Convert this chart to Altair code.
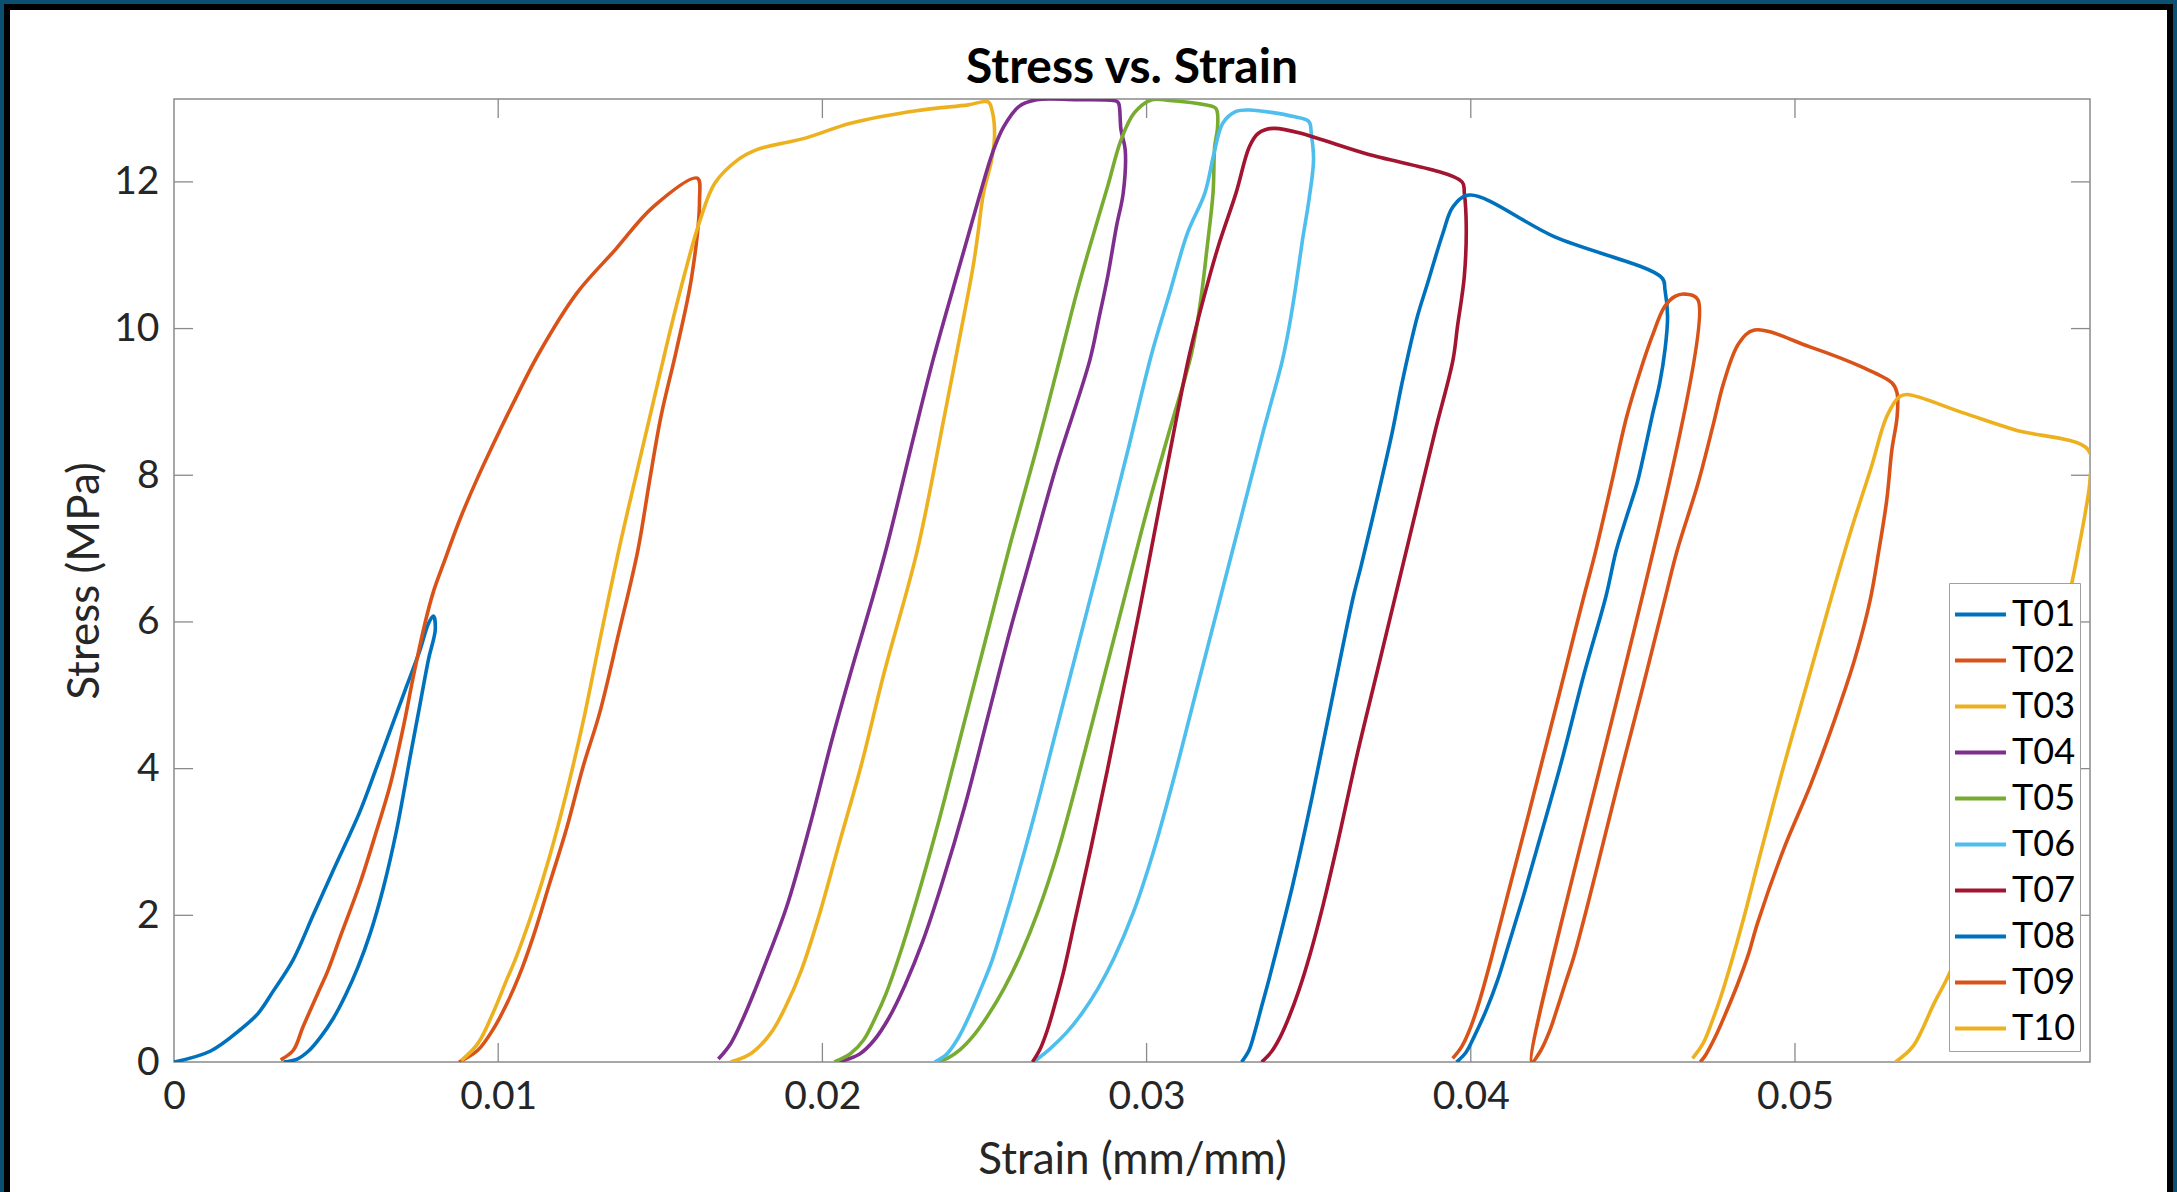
import altair as alt
import pandas as pd

# ---------------- data (strain in mm/mm, stress in MPa) ----------------
T01_strain = [0, 0.00113, 0.00207, 0.00259, 0.00308, 0.00367, 0.0043, 0.00492, 0.00574, 0.00626, 0.00677, 0.00718,
              0.00759, 0.00785, 0.0080, 0.00806, 0.00785, 0.00759, 0.00728, 0.00687, 0.00646, 0.00605, 0.00568,
              0.0053, 0.00492, 0.00452, 0.00415, 0.0038, 0.00338]
T01_stress = [0, 0.15, 0.45, 0.66, 0.98, 1.39, 2.01, 2.62, 3.42, 4.03, 4.64, 5.13,
              5.62, 5.98, 6.08, 5.9, 5.49, 4.88, 4.15, 3.17, 2.38, 1.75, 1.3,
              0.92, 0.6, 0.34, 0.15, 0.04, 0]

T02_strain = [0.00329, 0.00368, 0.00398, 0.00445, 0.00475, 0.00513, 0.00574, 0.00626, 0.00667, 0.00708, 0.00738,
              0.00774, 0.008, 0.0083, 0.00882, 0.00933, 0.01006, 0.01046, 0.01124, 0.01242, 0.0136, 0.01478, 0.01614,
              0.01621, 0.01597, 0.0155, 0.01502, 0.01466, 0.01431, 0.01372, 0.01313, 0.01262, 0.0121, 0.01159,
              0.01108, 0.01065, 0.01025, 0.00985, 0.00937, 0.00879]
T02_stress = [0.03, 0.16, 0.48, 0.95, 1.25, 1.71, 2.44, 3.17, 3.78, 4.58, 5.25,
              5.98, 6.41, 6.78, 7.4, 7.93, 8.62, 8.98, 9.65, 10.48, 11.07, 11.66, 12.05,
              11.75, 10.71, 9.71, 8.8, 7.9, 6.98, 5.85, 4.76, 4.03, 3.17, 2.44,
              1.71, 1.18, 0.78, 0.45, 0.16, 0]

T03_strain = [0.00886, 0.00937, 0.00988, 0.01026, 0.01052, 0.01108, 0.01159, 0.0121, 0.01262, 0.01313, 0.01372,
              0.0142, 0.01478, 0.01526, 0.01573, 0.0162, 0.01668, 0.01739, 0.01798, 0.0195, 0.02087, 0.0229, 0.0245,
              0.02511, 0.02525, 0.02531, 0.02522, 0.02497, 0.0248, 0.02465, 0.02424, 0.02376, 0.02293, 0.0219,
              0.0212, 0.0205, 0.0199, 0.01935, 0.01886, 0.01842, 0.01781, 0.01717]
T03_stress = [0.02, 0.25, 0.71, 1.12, 1.39, 2.08, 2.81, 3.66, 4.64, 5.74, 6.98,
              7.9, 8.99, 9.89, 10.71, 11.44, 11.98, 12.3, 12.44, 12.6, 12.8, 12.97, 13.05,
              13.09, 12.94, 12.62, 12.3, 11.85, 11.3, 10.85, 9.89, 8.8, 6.98, 5.3,
              4.05, 2.95, 2.0, 1.25, 0.75, 0.4, 0.12, 0]

T04_strain = [0.01679, 0.01717, 0.01756, 0.01794, 0.01832, 0.0189, 0.0196, 0.0203, 0.021, 0.0215, 0.022, 0.02282,
              0.02343, 0.02426, 0.02484, 0.02525, 0.02559, 0.02607, 0.02661, 0.0278, 0.02907,
              0.02914, 0.02921, 0.02934, 0.02928, 0.02907, 0.0288, 0.02852, 0.02825, 0.0272, 0.0265, 0.0258,
              0.0251, 0.0244, 0.0237, 0.0231, 0.02255, 0.02205, 0.0216, 0.02115, 0.02049]
T04_stress = [0.04, 0.25, 0.6, 1.0, 1.43, 2.12, 3.2, 4.4, 5.5, 6.25, 7.05, 8.53,
              9.6, 10.9, 11.8, 12.4, 12.75, 13.03, 13.12, 13.12, 13.1,
              13.07, 12.71, 12.44, 11.85, 11.39, 10.71, 10.12, 9.57, 8.1, 7.0, 5.9,
              4.7, 3.5, 2.45, 1.65, 1.05, 0.6, 0.3, 0.11, 0]

T05_strain = [0.02037, 0.02088, 0.02127, 0.02165, 0.02197, 0.02233, 0.0229, 0.0236, 0.0243, 0.025, 0.02583, 0.0266,
              0.02736, 0.02784, 0.02825, 0.0288, 0.02921, 0.02962, 0.03016, 0.03071, 0.0318, 0.03214,
              0.03219, 0.0321, 0.03205, 0.03187, 0.03167, 0.03139, 0.0307, 0.03, 0.0293, 0.0286, 0.0279, 0.02725,
              0.02665, 0.0261, 0.0256, 0.02513, 0.02468, 0.02425, 0.02385, 0.0235]
T05_stress = [0, 0.12, 0.3, 0.62, 0.94, 1.39, 2.2, 3.3, 4.5, 5.7, 7.12, 8.35,
              9.65, 10.48, 11.12, 11.94, 12.57, 12.94, 13.12, 13.11, 13.05, 13.0,
              12.75, 12.48, 11.85, 11.12, 10.39, 9.67, 8.6, 7.5, 6.3, 5.1, 3.9, 2.85,
              2.05, 1.45, 1.0, 0.65, 0.37, 0.17, 0.05, 0]

T06_strain = [0.02346, 0.02382, 0.02418, 0.02452, 0.02487, 0.02523, 0.0258, 0.0265, 0.0272, 0.0279, 0.0286, 0.0294,
              0.03016, 0.03071, 0.03126, 0.0318, 0.03208, 0.03235, 0.03276, 0.03317, 0.03454, 0.03501,
              0.03508, 0.03515, 0.03501, 0.03481, 0.0346, 0.0344, 0.03419, 0.0336, 0.0329, 0.0322, 0.0315, 0.0308,
              0.0302, 0.0296, 0.029, 0.0285, 0.028, 0.02753, 0.02702, 0.02651]
T06_stress = [0, 0.1, 0.32, 0.62, 0.98, 1.38, 2.2, 3.3, 4.5, 5.7, 6.9, 8.3,
              9.66, 10.48, 11.3, 11.85, 12.39, 12.8, 12.96, 12.98, 12.89, 12.82,
              12.66, 12.3, 11.76, 11.21, 10.57, 10.03, 9.57, 8.6, 7.4, 6.2, 5.0, 3.8,
              2.85, 2.05, 1.42, 1.0, 0.66, 0.4, 0.18, 0]

T07_strain = [0.02648, 0.02672, 0.02695, 0.02718, 0.02745, 0.0278, 0.0283, 0.0288, 0.0293, 0.0298, 0.0303, 0.0308,
              0.03133, 0.0318, 0.03221, 0.03276, 0.03317, 0.03344, 0.03392, 0.0368, 0.03973,
              0.0398, 0.03986, 0.0398, 0.03959, 0.03945, 0.0389, 0.0383, 0.0377, 0.0371, 0.0365, 0.0359, 0.03545,
              0.03505, 0.0347, 0.0344, 0.03412, 0.03385, 0.03355]
T07_stress = [0, 0.18, 0.45, 0.8, 1.25, 1.95, 2.95, 4.0, 5.1, 6.2, 7.35, 8.5,
              9.66, 10.48, 11.12, 11.85, 12.48, 12.66, 12.73, 12.38, 12.0,
              11.85, 11.39, 10.71, 10.03, 9.57, 8.6, 7.5, 6.4, 5.3, 4.2, 3.0, 2.15,
              1.48, 0.98, 0.62, 0.34, 0.14, 0]

T08_strain = [0.03293, 0.03316, 0.03335, 0.03355, 0.03373, 0.03393, 0.0345, 0.0351, 0.0357, 0.03638, 0.03661, 0.0371,
              0.03757, 0.03788, 0.03835, 0.03867, 0.03914, 0.03945, 0.03995, 0.04259, 0.0459,
              0.04599, 0.04607, 0.04599, 0.04583, 0.04559, 0.04537, 0.04513, 0.04481, 0.04449, 0.04417, 0.0435,
              0.0428, 0.04203, 0.04158, 0.04118, 0.04083, 0.04048, 0.04013, 0.03985, 0.03956]
T08_stress = [0, 0.16, 0.43, 0.76, 1.05, 1.39, 2.4, 3.6, 4.9, 6.35, 6.75, 7.66,
              8.57, 9.26, 10.16, 10.62, 11.3, 11.66, 11.82, 11.25, 10.69,
              10.53, 10.16, 9.71, 9.26, 8.8, 8.35, 7.89, 7.44, 6.98, 6.35, 5.3,
              4.1, 2.89, 2.2, 1.62, 1.12, 0.71, 0.37, 0.13, 0]

T09_strain = [0.03944, 0.03972, 0.04, 0.04028, 0.04062, 0.04115, 0.04168, 0.0422, 0.04272, 0.04323, 0.04346, 0.04386,
              0.04434, 0.04481, 0.04527, 0.04559, 0.04598, 0.0463, 0.04661, 0.04701,
              0.04188, 0.04215, 0.04243, 0.04268, 0.04292, 0.04317, 0.04351, 0.0439, 0.0446, 0.0453, 0.04598,
              0.04637, 0.04701, 0.04749, 0.0478, 0.04827, 0.04875, 0.05046, 0.05204, 0.05299,
              0.05315, 0.05315, 0.05299, 0.05283, 0.05259, 0.05232, 0.05185, 0.05125, 0.0505, 0.04964, 0.04885,
              0.04855, 0.04822, 0.04785, 0.04755, 0.04725, 0.04708]
T09_stress = [0.05, 0.21, 0.48, 0.85, 1.39, 2.3, 3.2, 4.1, 5.0, 5.9, 6.3, 6.98,
              7.89, 8.8, 9.48, 9.89, 10.3, 10.44, 10.47, 10.39,
              0, 0.15, 0.42, 0.75, 1.08, 1.42, 1.98, 2.66, 3.9, 5.1, 6.3,
              6.98, 7.89, 8.71, 9.26, 9.8, 9.98, 9.75, 9.48, 9.26,
              9.12, 8.8, 8.35, 7.66, 6.98, 6.3, 5.5, 4.7, 3.8, 2.89, 1.9,
              1.45, 1.05, 0.65, 0.35, 0.1, 0]

T10_strain = [0.04684, 0.04716, 0.04744, 0.04772, 0.04803, 0.04843, 0.04888, 0.0496, 0.0504, 0.0511, 0.05173,
              0.05236, 0.05283, 0.05322, 0.05346, 0.05519, 0.05677, 0.05904, 0.0591, 0.05897, 0.05875, 0.0585,
              0.0577, 0.0565, 0.05481, 0.05429, 0.05365, 0.0531]
T10_stress = [0.05, 0.25, 0.55, 0.9, 1.35, 1.98, 2.75, 3.95, 5.2, 6.3, 7.25,
              8.12, 8.8, 9.07, 9.1, 8.85, 8.62, 8.35, 7.94, 7.53, 7.0, 6.45,
              5.0, 3.3, 1.25, 0.8, 0.22, 0]

tests = ["T01", "T02", "T03", "T04", "T05", "T06", "T07", "T08", "T09", "T10"]
strains = [T01_strain, T02_strain, T03_strain, T04_strain, T05_strain,
           T06_strain, T07_strain, T08_strain, T09_strain, T10_strain]
stresses = [T01_stress, T02_stress, T03_stress, T04_stress, T05_stress,
            T06_stress, T07_stress, T08_stress, T09_stress, T10_stress]
colors = ["#0072BD", "#D95319", "#EDB120", "#7E2F8E", "#77AC30",
          "#4DBEEE", "#A2142F", "#0072BD", "#D95319", "#EDB120"]

x_ticks = [0, 0.01, 0.02, 0.03, 0.04, 0.05]
y_ticks = [0, 2, 4, 6, 8, 10, 12]
chart_title = ["Stress vs. Strain"]

rows = []
for name, xs, ys in zip(tests, strains, stresses):
    for i, (a, b) in enumerate(zip(xs, ys)):
        rows.append({"test": name, "strain": a, "stress": b, "i": i})
df = pd.DataFrame(rows)

# ---------------- layout ----------------
W, H = 1916, 963
FONT = "Lato"
TXT = "#262626"
AX = "#8a8a8a"
TICK = 19
X_TITLE = "Strain (mm/mm)"
Y_TITLE = "Stress (MPa)"

xscale = alt.Scale(domain=[0, 0.0591], nice=False, zero=False)
yscale = alt.Scale(domain=[0, 13.13], nice=False, zero=False)

x_axis = alt.Axis(values=x_ticks, format="~g", ticks=False, domain=False, grid=False, labelFlush=False,
                  labelFont=FONT, labelFontSize=39, labelColor=TXT, labelPadding=15,
                  titleFont=FONT, titleFontSize=44, titleFontWeight="normal", titleColor=TXT,
                  titleX=W / 2, titleY=111, titleAlign="center", titleBaseline="alphabetic")
y_axis = alt.Axis(values=y_ticks, ticks=False, domain=False, grid=False, labelFlush=False,
                  labelFont=FONT, labelFontSize=39, labelColor=TXT, labelPadding=15,
                  titleFont=FONT, titleFontSize=44, titleFontWeight="normal", titleColor=TXT,
                  titleAngle=270, titleX=-76, titleY=H / 2, titleAlign="center",
                  titleBaseline="alphabetic")

lines = alt.Chart(df).mark_line(strokeWidth=3.6, clip=True, interpolate="catmull-rom").encode(
    x=alt.X("strain:Q", scale=xscale, title=X_TITLE, axis=x_axis),
    y=alt.Y("stress:Q", scale=yscale, title=Y_TITLE, axis=y_axis),
    color=alt.Color("test:N", scale=alt.Scale(domain=tests, range=colors),
                    legend=alt.Legend(title=None, orient="none", legendX=1775, legendY=484,
                                      symbolType="stroke", symbolSize=2600, symbolStrokeWidth=4,
                                      labelFont=FONT, labelFontSize=36, labelColor="black",
                                      labelOffset=4, rowPadding=0, padding=4,
                                      fillColor="white", strokeColor="#a0a0a0")),
    order=alt.Order("i:Q"),
)

xt = pd.DataFrame({"v": x_ticks[1:]})
yt = pd.DataFrame({"v": y_ticks[1:]})


def xtick(y0, y1):
    return alt.Chart(xt).mark_rule(color=AX, strokeWidth=1.3).encode(
        x=alt.X("v:Q", scale=xscale, title=X_TITLE, axis=x_axis),
        y=alt.value(y0), y2=alt.value(y1))


def ytick(x0, x1):
    return alt.Chart(yt).mark_rule(color=AX, strokeWidth=1.3).encode(
        y=alt.Y("v:Q", scale=yscale, title=Y_TITLE, axis=y_axis),
        x=alt.value(x0), x2=alt.value(x1))


one = pd.DataFrame({"k": [0]})
blue_frame = alt.Chart(one).mark_rect(fillOpacity=0, stroke="#0b4f73", strokeWidth=8).encode(
    x=alt.value(-174), x2=alt.value(2177 - 174), y=alt.value(-99), y2=alt.value(1300))
black_frame = alt.Chart(one).mark_rect(fillOpacity=0, stroke="black", strokeWidth=6).encode(
    x=alt.value(7 - 174), x2=alt.value(2170 - 174), y=alt.value(7 - 99), y2=alt.value(1300))

title = alt.Chart(pd.DataFrame({"t": chart_title})).mark_text(
    font=FONT, fontSize=48, fontWeight="bold", color="black", align="center", baseline="alphabetic"
).encode(text="t:N", x=alt.value(W / 2), y=alt.value(-16))

chart = alt.layer(
    blue_frame, black_frame,
    xtick(H, H - TICK), xtick(0, TICK), ytick(0, TICK), ytick(W - TICK, W),
    lines, title,
).properties(
    width=W, height=H,
    padding={"left": 174, "top": 99, "right": 87, "bottom": 130},
    autosize=alt.AutoSizeParams(type="none"),
).configure(
    background="white",
).configure_view(
    stroke=AX, strokeWidth=1.5,
)

chart.save("out.html", embed_options={"renderer": "svg", "actions": False})
